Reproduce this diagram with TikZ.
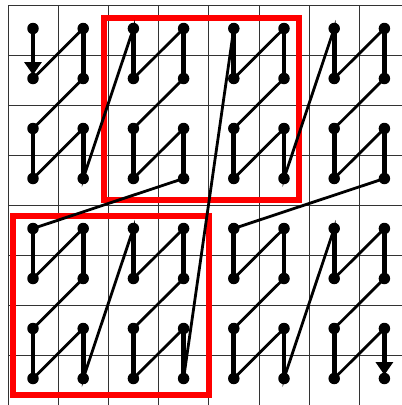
\documentclass[tikz,border=0pt]{standalone}
\usetikzlibrary{arrows.meta}
\begin{document}
\begin{tikzpicture}[x=1pt,y=-1pt,
  gridline/.style={draw=black!80,line width=1pt},
  redbox/.style={draw=red,line width=6pt},
  curve/.style={line width=2.8pt,line join=miter},
  vseg/.style={line width=4.7pt},
  arrowseg/.style={vseg,-{Triangle[width=17pt,length=13pt]},shorten >=3.5pt},
  dot/.style={circle,fill=black,inner sep=0pt,minimum size=11.5pt}]
\useasboundingbox (0,0) rectangle (402,405);
\fill[white] (0,0) rectangle (402,405);
% grid
\foreach \k in {0,...,7} { \draw[gridline] ({8+50.2*\k},5) -- ({8+50.2*\k},405); }
\foreach \k in {0,...,7} { \draw[gridline] (8,{5+50*\k}) -- (402,{5+50*\k}); }
% points of the Z-order curve
\foreach \n in {0,...,63} {
  \pgfmathtruncatemacro{\cx}{mod(floor(\n/2),2)+2*mod(floor(\n/8),2)+4*mod(floor(\n/32),2)}
  \pgfmathtruncatemacro{\cy}{mod(\n,2)+2*mod(floor(\n/4),2)+4*mod(floor(\n/16),2)}
  \coordinate (p\n) at ({33+50.2*\cx},{28.5+50*\cy});
}
% red frames
\draw[redbox] (103.5,18) rectangle (299,200);
\draw[redbox] (12.5,215.5) rectangle (208.5,394.5);
% curve
\draw[curve] (p0) \foreach \n in {1,...,63} { -- (p\n) };
\foreach \n in {2,4,...,60} { \pgfmathtruncatemacro{\m}{\n+1} \draw[vseg] (p\n) -- (p\m); }
\draw[arrowseg] (p0) -- (p1);
\draw[arrowseg] (p62) -- (p63);
\foreach \n in {0,...,63} { \node[dot] (d\n) at (p\n) {}; }
\end{tikzpicture}
\end{document}
